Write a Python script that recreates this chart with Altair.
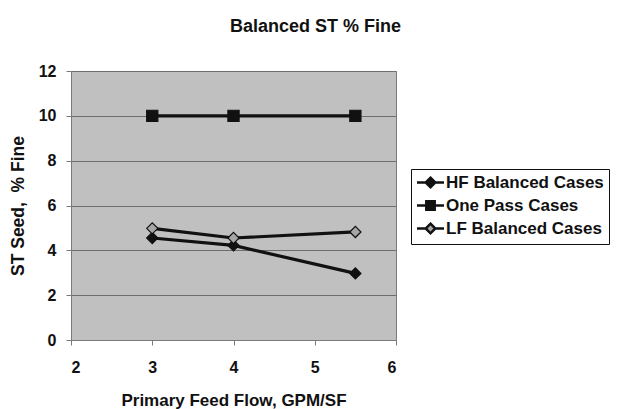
import altair as alt
import pandas as pd

flow = [3, 4, 5.5]
series_names = ["HF Balanced Cases", "One Pass Cases", "LF Balanced Cases"]
hf_balanced = [4.55, 4.22, 2.97]
one_pass = [10.0, 10.0, 10.0]
lf_balanced = [4.98, 4.55, 4.82]
x_ticks = [2, 3, 4, 5, 6]
y_ticks = [0, 2, 4, 6, 8, 10, 12]

rows = []
for name, vals in zip(series_names, [hf_balanced, one_pass, lf_balanced]):
    for xv, yv in zip(flow, vals):
        rows.append({"series": name, "flow": xv, "fine": yv})
df = pd.DataFrame(rows)

FONT = "Liberation Sans"

x = alt.X("flow:Q", scale=alt.Scale(domain=[2, 6], nice=False),
          axis=alt.Axis(values=x_ticks, title="Primary Feed Flow, GPM/SF", grid=False,
                        format="d", tickSize=5, labelPadding=14, titlePadding=17))
y = alt.Y("fine:Q", scale=alt.Scale(domain=[0, 12], nice=False),
          axis=alt.Axis(values=y_ticks, title="ST Seed,\u00a0 % Fine", grid=True,
                        tickSize=5, labelPadding=10, titlePadding=11, titleFontSize=17.5))

base = alt.Chart(df)

lines = base.mark_line(color="#111111", strokeWidth=3.2).encode(
    x=x, y=y, detail="series:N")

points = base.mark_point(filled=True, size=125, stroke="#111111", strokeWidth=1.2, opacity=1).encode(
    x=x, y=y,
    shape=alt.Shape("series:N", scale=alt.Scale(domain=series_names,
                                                 range=["diamond", "square", "diamond"]), legend=None),
    fill=alt.Fill("series:N", scale=alt.Scale(domain=series_names,
                                               range=["#111111", "#111111", "#a6a6a6"]), legend=None),
)

dia = "M-2.25,0H-0.75M0.75,0H2.25M0,-0.8L0.8,0L0,0.8L-0.8,0Z"
sq = "M-2.25,0H-0.7M0.7,0H2.25M-0.7,-0.7H0.7V0.7H-0.7Z"

legend_layer = base.mark_point(filled=False, size=144, strokeWidth=2.5, opacity=1).encode(
    x=x, y=y,
    shape=alt.Shape("series:N", scale=alt.Scale(domain=series_names, range=[dia, sq, dia]),
                    legend=alt.Legend(title=None)),
    fill=alt.Fill("series:N", scale=alt.Scale(domain=series_names,
                                               range=["#111111", "#111111", "#a6a6a6"]),
                  legend=alt.Legend(title=None)),
    stroke=alt.Stroke("series:N", scale=alt.Scale(domain=series_names,
                                                   range=["#111111", "#111111", "#111111"]),
                      legend=alt.Legend(title=None)),
).transform_filter("false")

chart = alt.layer(lines, points, legend_layer).resolve_scale(
    shape="independent", fill="independent", stroke="independent"
).properties(
    width=325, height=269,
    autosize=alt.AutoSizeParams(type="none"),
    padding={"left": 63, "top": 63, "right": 217, "bottom": 70},
    title=alt.TitleParams("Balanced ST % Fine", fontSize=18, font=FONT, fontWeight="bold",
                          color="#111111", anchor="middle", dx=82, offset=27),
).configure_view(
    fill="#c0c0c0", stroke="#7a7a7a", strokeWidth=1
).configure_axis(
    labelFont=FONT, labelFontSize=16, labelFontWeight="bold", labelColor="#111111",
    titleFont=FONT, titleFontSize=17, titleFontWeight="bold", titleColor="#111111",
    domainColor="#7a7a7a", tickColor="#7a7a7a", gridColor="#6e6e6e", gridOpacity=1,
    domainWidth=1, tickWidth=1, gridWidth=1,
).configure_legend(
    orient="none", legendX=340, legendY=98,
    strokeColor="#111111", strokeWidth=1, fillColor="white", padding=5,
    labelFont=FONT, labelFontSize=17, labelFontWeight="bold", labelColor="#111111",
    symbolOffset=6, labelOffset=7, rowPadding=3,
    symbolStrokeWidth=2.5, symbolSize=144, labelLimit=300,
)

chart.save("out.html", embed_options={"renderer": "svg", "actions": False})
